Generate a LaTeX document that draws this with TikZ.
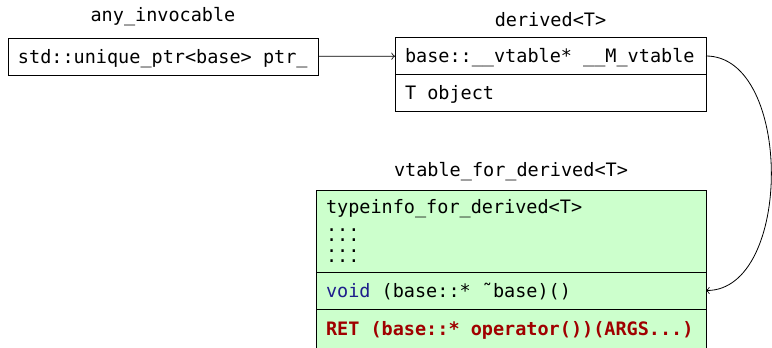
\documentclass[tikz,border=0pt]{standalone}
\usepackage{fontspec}
\setmonofont{DejaVu Sans Mono}
\usepackage{tikz}

\definecolor{vtgreen}{RGB}{204,255,204}
\definecolor{kwblue}{RGB}{30,30,140}
\definecolor{opred}{RGB}{160,0,0}

% fixed-width spaces in the mono font
\newcommand{\fixsp}{\spaceskip=0.602em\relax\xspaceskip=0.602em\relax}

\tikzset{
  field/.style={draw,rectangle,inner xsep=5pt,inner ysep=0pt,outer sep=0pt},
  row/.style={field,text height=8pt,text depth=1.5pt,minimum height=18.5pt},
  caption/.style={anchor=base}
}

\begin{document}
\begin{tikzpicture}[x=0.5pt,y=-0.5pt,font=\ttfamily\fontsize{9.25}{10.5}\selectfont]
\clip (0,0) rectangle (772,348);
\node (anyname) at (163,21) [caption] {any\_invocable};
\node (ptr) at (163,56.5) [row,text width=145pt] {\fixsp std::unique\_ptr<base> ptr\_};
\node (derivedname) at (550.5,26) [caption] {derived<T>};
\node (vptr) at (550.5,56) [row,text width=145.5pt] {\fixsp base::\_\_vtable* \_\_M\_vtable};
\node (obj) at (vptr.south) [row,anchor=north,text width=145.5pt] {\fixsp T object};
\node (vtblname) at (511,176) [caption] {vtable\_for\_derived<T>};
\node (tinfo) at (511,231) [field,fill=vtgreen,text width=185pt,minimum height=41pt] {typeinfo\_for\_derived<T>\\[-1.5pt]...\\[-5.3pt]...\\[-5.3pt]...\\[-5.3pt]...};
\node (dtor) at (tinfo.south) [row,anchor=north,fill=vtgreen,text width=185pt] {\fixsp\textcolor{kwblue}{void} (base::* \char"02DC base)()};
\node (callop) at (dtor.south) [row,anchor=north,fill=vtgreen,text width=185pt,minimum height=30pt,text depth=12pt] {\fixsp\bfseries\textcolor{opred}{RET (base::* operator())(ARGS...)}};
\draw[->] (ptr) -- (vptr);
\draw[->] (vptr.east) .. controls +(87,0) and +(87,0) .. (dtor.east);
\end{tikzpicture}
\end{document}
